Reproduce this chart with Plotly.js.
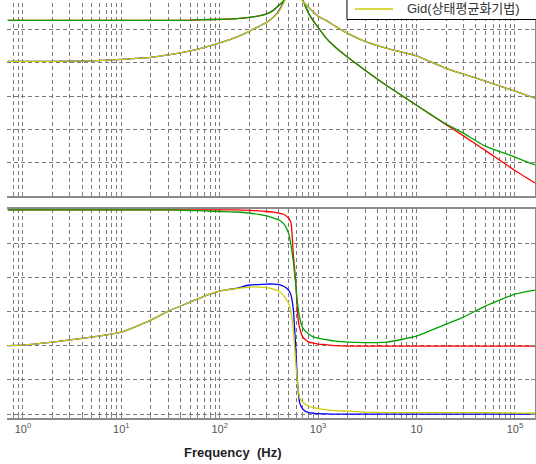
<!DOCTYPE html>
<html>
<head>
<meta charset="utf-8">
<script src="https://cdn.plot.ly/plotly-3.0.1.min.js"></script>
<style>
html, body { margin:0; padding:0; width:536px; height:464px; overflow:hidden; background:#fff; }
#chart { position:absolute; left:0; top:-6px; width:560px; height:470px; }
</style>
</head>
<body>
<div id="chart"></div>
<script>
// Frequency points (Hz)
const freq = [0.7, 1, 2, 5, 10, 20, 30, 50, 70, 100, 150, 200, 250, 300, 350, 400, 450, 500, 530, 560,
              590, 620, 650, 700, 800, 900, 1000, 1200, 1500, 2000, 3000, 5000, 10000, 20000, 30000, 50000, 100000, 160000];

// Magnitude (dB)
const magRed    = [5.4, 5.4, 5.4, 5.4, 5.4, 5.4, 5.4, 5.5, 5.8, 6.0, 6.4, 7.2, 8.1, 9.3, 11.4, 14.4, 17.4, 23, 27, 29,
                   27, 23, 21, 17.4, 9.6, 4.8, 1.2, -5.1, -10.8, -16.8, -24.5, -33.8, -45.5, -57.2, -63.9, -72.6, -84.7, -92.2];
const magGreen  = [5.4, 5.4, 5.4, 5.4, 5.4, 5.4, 5.4, 5.5, 5.8, 6.0, 6.4, 7.2, 8.1, 9.3, 11.4, 14.4, 17.4, 23, 27, 29,
                   27, 23, 21, 17.4, 9.6, 4.8, 1.2, -5.1, -10.8, -16.8, -24.5, -33.8, -45.5, -56.8, -62.3, -70.1, -76.6, -81.4];
const magBlue   = [-19.2, -19.2, -19.2, -18.9, -18.0, -16.8, -15.3, -12.9, -10.8, -8.1, -4.5, -1.2, 1.8, 4.2, 7.2, 11.2, 16.8, 22, 26, 28,
                   26, 23, 21, 16.8, 13.2, 10.2, 7.8, 5.4, 1.8, -2.4, -7.2, -11.4, -15.9, -23.4, -26.9, -31.1, -37.1, -41.3];
const magYellow = [-19.2, -19.2, -19.2, -18.9, -18.0, -16.8, -15.3, -12.9, -10.8, -8.1, -4.5, -1.2, 1.8, 4.2, 7.2, 10.8, 16.2, 22, 26, 28,
                   26, 23, 21, 16.8, 13.2, 10.2, 7.8, 5.4, 1.8, -2.4, -7.2, -11.4, -15.9, -23.4, -26.9, -31.1, -37.1, -41.3];

// Phase (deg)
const phRed    = [178.7, 178.7, 178.7, 178.7, 178.7, 178.7, 178.7, 178.7, 178.7, 178.7, 178.7, 178, 177.4, 176.7, 176, 174.7, 172.8, 168.1, 161.6, 119.4,
                  86.5, 40.4, 23.3, 11.4, 4.8, 3.5, 2.2, 1.5, 0.2, -0.4, -0.4, -0.4, -0.4, -0.4, -0.4, -0.4, -0.4, -0.4];
const phGreen  = [178.7, 178.7, 178.7, 178.7, 178.7, 178.7, 178.7, 178, 177.4, 176.7, 176, 174.7, 172.8, 170.8, 168.1, 165.5, 160.2, 148.4, 132.6, 110.2,
                  82.5, 53.6, 36.4, 23.3, 15.4, 11.4, 10.1, 8.1, 6.2, 4.8, 4.2, 4.8, 12.7, 28.5, 37.8, 52.3, 68, 73.3];
const phBlue   = [0.2, 0.9, 4.8, 11.4, 18, 33.8, 45.6, 57.5, 65.4, 72, 76, 80, 80.6, 81.2, 81.2, 80.6, 78, 73.3, 66.7, 47,
                  0.9, -51.8, -75.5, -83.4, -88, -88.7, -89.3, -89.6, -90, -90, -90, -90, -90, -90, -90, -90, -90, -90];
const phYellow = [0.2, 0.9, 4.8, 11.4, 18, 33.8, 45.6, 57.5, 65.4, 72, 75.4, 77.3, 77.3, 76.6, 74.7, 72, 65.4, 56.2, 44.3, 20.6,
                  -18.9, -51.8, -68.9, -74.2, -79.5, -81.4, -82.7, -84, -85.4, -86, -87.3, -88, -88, -88, -88, -88, -88.5, -88.7];

// Axis ticks
const decades = [1, 10, 100, 1000, 10000, 100000];
const decadeLabels = ['10<sup>0</sup>', '10<sup>1</sup>', '10<sup>2</sup>', '10<sup>3</sup>', '10', '10<sup>5</sup>'];
const legendName = 'Gid(상태평균화기법)';

const colors = { red: '#ff0000', green: '#00a000', blue: '#0000ff', yellow: '#cccc00' };

// grid positions (1..9 x decade)
const gridVals = [], gridText = [];
[0.1].concat(decades).forEach(function (d) {
  for (let m = 1; m <= 9; m++) {
    const v = +(m * d).toPrecision(3);
    if (v < 0.69 || v > 160000) continue;
    gridVals.push(v);
    const i = decades.indexOf(v);
    gridText.push(i >= 0 ? decadeLabels[i] : '');
  }
});

const lw = 1.3;
function tr(y, color, name, xa, ya) {
  return { x: freq, y: y, type: 'scatter', mode: 'lines', name: name, xaxis: xa, yaxis: ya,
           line: { color: color, width: lw, shape: 'spline', smoothing: 0.5 },
           showlegend: false, hoverinfo: 'skip' };
}

const data = [
  tr(magRed, colors.red, 'Gvd', 'x', 'y'),
  tr(magBlue, colors.blue, 'Gid', 'x', 'y'),
  tr(magGreen, colors.green, 'Gvd(상태평균화기법)', 'x', 'y'),
  tr(magYellow, colors.yellow, legendName, 'x', 'y'),
  tr(phRed, colors.red, 'Gvd', 'x2', 'y2'),
  tr(phBlue, colors.blue, 'Gid', 'x2', 'y2'),
  tr(phGreen, colors.green, 'Gvd(상태평균화기법)', 'x2', 'y2'),
  tr(phYellow, colors.yellow, legendName, 'x2', 'y2')
];

const gridColor = '#7a7a7a';
const frameColor = '#8a8a8a';
const xr = [Math.log10(0.688), Math.log10(160000)];

function xAxis(anchor, showLabels) {
  return {
    type: 'log', range: xr, anchor: anchor, domain: [0, 1],
    tickmode: 'array', tickvals: gridVals, ticktext: gridText,
    showticklabels: showLabels,
    tickfont: { family: 'Arial, "Liberation Sans", sans-serif', size: 11, color: '#555' },
    showgrid: true, gridcolor: gridColor, griddash: '4px,3px', gridwidth: 1,
    showline: true, linecolor: frameColor, linewidth: 1.5, mirror: true,
    ticks: 'inside', ticklen: 3, tickcolor: frameColor, zeroline: false
  };
}
function yAxis(anchor, domain, range, dtick) {
  return {
    anchor: anchor, domain: domain, range: range, dtick: dtick, tick0: 0,
    showticklabels: false, side: 'right',
    showgrid: true, gridcolor: gridColor, griddash: '4px,3px', gridwidth: 1,
    showline: true, linecolor: frameColor, linewidth: 1.5, mirror: false,
    ticks: 'inside', ticklen: 4, tickcolor: frameColor, zeroline: false
  };
}

const layout = {
  width: 560, height: 470,
  margin: { l: 7, r: 25, t: 2, b: 46 },
  paper_bgcolor: '#fff', plot_bgcolor: '#fff',
  showlegend: false,
  xaxis: xAxis('y', false),
  yaxis: yAxis('x', [0.526, 1], [-100, 20], 20),
  xaxis2: xAxis('y2', true),
  yaxis2: yAxis('x2', [0, 0.4953], [-95, 180], 45),
  shapes: [
    // legend box (its upper part lies outside the visible area, like the cropped original)
    { type: 'rect', xref: 'paper', yref: 'paper', x0: 0.6439, x1: 1.1, y0: 0.9443, y1: 1.06,
      fillcolor: '#fff', line: { color: '#000', width: 1 }, layer: 'above' },
    { type: 'line', xref: 'paper', yref: 'paper', x0: 0.659, x1: 0.731, y0: 0.9692, y1: 0.9692,
      line: { color: colors.yellow, width: 1.3 }, layer: 'above' }
  ],
  annotations: [
    { text: legendName, xref: 'paper', yref: 'paper', x: 0.754, y: 0.9692,
      xanchor: 'left', yanchor: 'middle', showarrow: false,
      font: { family: 'Arial, "Noto Sans CJK KR", sans-serif', size: 13, color: '#333' } },
    { text: '<b>Frequency  (Hz)</b>', xref: 'paper', yref: 'paper', x: 0.428, y: -0.0806,
      xanchor: 'center', yanchor: 'middle', showarrow: false,
      font: { family: 'Arial, "Liberation Sans", sans-serif', size: 13, color: '#222' } }
  ]
};

Plotly.newPlot('chart', data, layout, { displayModeBar: false, staticPlot: true });
</script>
</body>
</html>
